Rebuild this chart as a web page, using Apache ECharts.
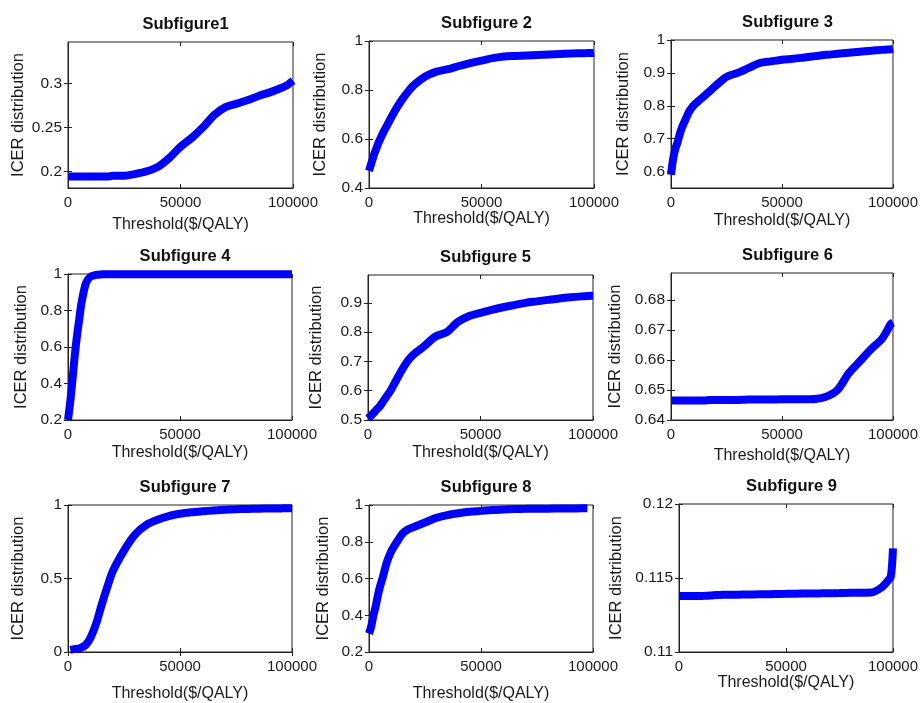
<!DOCTYPE html>
<html>
<head>
<meta charset="utf-8">
<script src="https://cdn.jsdelivr.net/npm/echarts@6/dist/echarts.min.js"></script>
<style>
  html, body { margin: 0; padding: 0; background: #fff; }
  #main { width: 921px; height: 703px; }
</style>
</head>
<body>
<div id="main"></div>
<script>
// shared x values (threshold, $/QALY)
const thresholds = [0, 1000, 2000, 3000, 4000, 5000, 6000, 8000, 10000, 12500, 15000, 17500, 20000,
  25000, 30000, 35000, 40000, 45000, 50000, 55000, 60000, 65000, 70000, 75000, 80000, 85000, 90000,
  95000, 97500, 99000, 100000];
const xTicks = [0, 50000, 100000];

const titles = ['Subfigure1', 'Subfigure 2', 'Subfigure 3', 'Subfigure 4', 'Subfigure 5',
  'Subfigure 6', 'Subfigure 7', 'Subfigure 8', 'Subfigure 9'];

const icer1 = [0.194, 0.194, 0.194, 0.194, 0.194, 0.194, 0.194, 0.194, 0.194, 0.194, 0.194, 0.194, 0.195,
  0.195, 0.197, 0.200, 0.205, 0.215, 0.228, 0.238, 0.250, 0.264, 0.273, 0.277, 0.281, 0.286, 0.290,
  0.295, 0.298, 0.301, 0.303];
const icer2 = [0.47, 0.50, 0.53, 0.555, 0.58, 0.60, 0.62, 0.655, 0.69, 0.73, 0.765, 0.795, 0.82,
  0.855, 0.875, 0.885, 0.898, 0.91, 0.92, 0.93, 0.937, 0.939, 0.941, 0.943, 0.945, 0.947, 0.949,
  0.950, 0.951, 0.951, 0.952];
const icer3 = [0.59, 0.64, 0.67, 0.69, 0.715, 0.735, 0.75, 0.78, 0.80, 0.815, 0.83, 0.845, 0.86,
  0.888, 0.90, 0.915, 0.93, 0.935, 0.94, 0.943, 0.947, 0.951, 0.955, 0.958, 0.961, 0.964, 0.967,
  0.970, 0.971, 0.972, 0.973];
const icer4 = [0.2, 0.30, 0.42, 0.55, 0.66, 0.75, 0.84, 0.95, 0.985, 0.995, 0.998, 0.999, 0.999,
  0.999, 0.999, 0.999, 0.999, 0.999, 0.999, 0.999, 0.999, 0.999, 0.999, 0.999, 0.999, 0.999, 0.999,
  0.999, 0.999, 0.999, 0.999];
const icer5 = [0.505, 0.512, 0.52, 0.528, 0.537, 0.545, 0.555, 0.578, 0.60, 0.635, 0.67, 0.70, 0.722,
  0.752, 0.785, 0.80, 0.835, 0.855, 0.866, 0.876, 0.885, 0.892, 0.90, 0.905, 0.91, 0.915, 0.919,
  0.922, 0.923, 0.924, 0.924];
const icer6 = [0.6465, 0.6465, 0.6465, 0.6465, 0.6465, 0.6465, 0.6465, 0.6465, 0.6465, 0.6465, 0.6465, 0.6467, 0.6467,
  0.6467, 0.6467, 0.6468, 0.6468, 0.6468, 0.6469, 0.6469, 0.6469, 0.6470, 0.6478, 0.6500, 0.6555, 0.6595, 0.6635,
  0.6670, 0.6700, 0.6720, 0.6725];
const icer7 = [null, 0.015, 0.018, 0.02, 0.022, 0.025, 0.03, 0.05, 0.095, 0.19, 0.32, 0.44, 0.55,
  0.69, 0.80, 0.865, 0.90, 0.925, 0.94, 0.95, 0.957, 0.963, 0.968, 0.971, 0.973, 0.975, 0.976,
  0.977, 0.978, 0.978, 0.978];
const icer8 = [0.30, 0.34, 0.40, 0.45, 0.51, 0.56, 0.60, 0.69, 0.75, 0.80, 0.845, 0.868, 0.88,
  0.905, 0.93, 0.945, 0.955, 0.963, 0.968, 0.973, 0.976, 0.978, 0.979, 0.98, 0.98, 0.981, 0.981,
  0.982, 0.982, null, null];
const icer9 = [0.11378, 0.11378, 0.11378, 0.11378, 0.11378, 0.11378, 0.11378, 0.11378, 0.11378, 0.11380, 0.11382, 0.11385, 0.11386,
  0.11387, 0.11388, 0.11389, 0.11390, 0.11392, 0.11393, 0.11394, 0.11395, 0.11396, 0.11397, 0.11398, 0.11400, 0.11401, 0.11402,
  0.11440, 0.11480, 0.11510, 0.11700];

// y ranges and tick labels per panel
const yMins = [0.181, 0.4, 0.55, 0.2, 0.5, 0.64, 0, 0.2, 0.11];
const yMaxs = [0.347, 1, 1, 1, 0.995, 0.689, 1, 1, 0.12];
const yTicks = [
  [0.2, 0.25, 0.3],
  [0.4, 0.6, 0.8, 1],
  [0.6, 0.7, 0.8, 0.9, 1],
  [0.2, 0.4, 0.6, 0.8, 1],
  [0.5, 0.6, 0.7, 0.8, 0.9],
  [0.64, 0.65, 0.66, 0.67, 0.68],
  [0, 0.5, 1],
  [0.2, 0.4, 0.6, 0.8, 1],
  [0.11, 0.115, 0.12]
];
const allSeries = [icer1, icer2, icer3, icer4, icer5, icer6, icer7, icer8, icer9];

// panel boxes: left, top, width, height
const boxes = [
  [68, 42, 225, 146], [369, 41, 225, 147], [671, 40, 223, 148],
  [68, 274, 224, 146], [368, 275, 225, 145], [671, 273, 223, 147],
  [68, 505, 224, 148], [369, 505, 224, 148], [679, 504, 215, 148]
];
const yNameGaps = [41, 40, 39, 38, 43, 47, 41, 37, 54];
const xNameGaps = [29, 23, 25, 25, 25, 28, 34, 34, 23];

const font = 'Liberation Sans, Arial, Helvetica, sans-serif';
const ink = '#1a1a1a';

const grid = [], xAxis = [], yAxis = [], series = [], title = [];

boxes.forEach((b, i) => {
  grid.push({
    left: b[0], top: b[1], width: b[2], height: b[3],
    show: true, borderColor: '#222', borderWidth: 1, backgroundColor: '#fff'
  });
  title.push({
    text: titles[i],
    left: b[0] + b[2] / 2, top: b[1] - 31, textAlign: 'center',
    textStyle: { fontFamily: font, fontSize: 16.5, fontWeight: 'bold', color: '#111' }
  });
  const tick = { show: true, inside: true, length: 4, lineStyle: { color: '#222' } };
  xAxis.push({
    type: 'value', gridIndex: i, min: 0, max: 100000, position: 'bottom',
    name: 'Threshold($/QALY)', nameLocation: 'middle', nameGap: xNameGaps[i],
    nameTextStyle: { fontFamily: font, fontSize: 16, color: ink },
    axisLine: { show: true, lineStyle: { color: '#222' } },
    axisTick: Object.assign({ customValues: xTicks }, tick),
    axisLabel: { customValues: xTicks, formatter: v => String(v), margin: 7, fontFamily: font, fontSize: 15, color: ink },
    splitLine: { show: false }
  });
  xAxis.push({
    type: 'value', gridIndex: i, min: 0, max: 100000, position: 'top',
    axisLine: { show: false },
    axisTick: Object.assign({ customValues: xTicks }, tick),
    axisLabel: { show: false }, splitLine: { show: false }
  });
  yAxis.push({
    type: 'value', gridIndex: i, min: yMins[i], max: yMaxs[i], position: 'left',
    name: 'ICER distribution', nameLocation: 'middle', nameGap: yNameGaps[i], nameRotate: 90,
    nameTextStyle: { fontFamily: font, fontSize: 16.5, color: ink },
    axisLine: { show: true, lineStyle: { color: '#222' } },
    axisTick: Object.assign({ customValues: yTicks[i] }, tick),
    axisLabel: { customValues: yTicks[i], formatter: v => String(v), margin: 6, fontFamily: font, fontSize: 15.5, color: ink },
    splitLine: { show: false }
  });
  yAxis.push({
    type: 'value', gridIndex: i, min: yMins[i], max: yMaxs[i], position: 'right',
    axisLine: { show: false },
    axisTick: Object.assign({ customValues: yTicks[i] }, tick),
    axisLabel: { show: false }, splitLine: { show: false }
  });
  series.push({
    type: 'line', xAxisIndex: i * 2, yAxisIndex: i * 2,
    data: thresholds.map((t, k) => [t, allSeries[i][k]]),
    showSymbol: false, smooth: 0.3, clip: true,
    lineStyle: { color: '#0000ff', width: 8, cap: 'butt' },
    animation: false
  });
});

const chart = echarts.init(document.getElementById('main'));
chart.setOption({ animation: false, backgroundColor: '#fff', title, grid, xAxis, yAxis, series });
</script>
</body>
</html>
